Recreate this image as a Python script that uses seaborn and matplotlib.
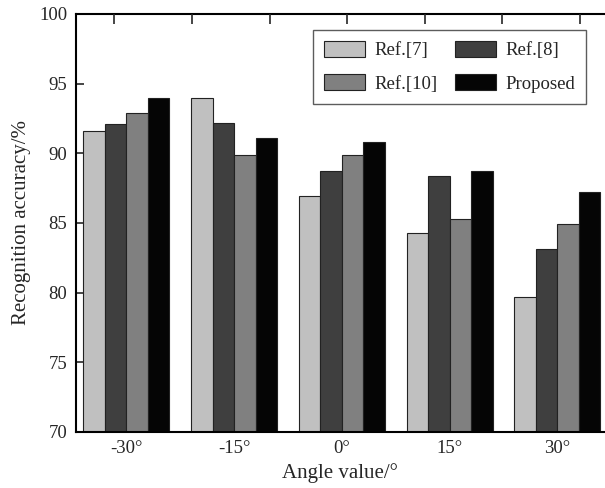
import seaborn as sns
import pandas as pd
import numpy as np
import matplotlib.pyplot as plt

# Data
angles = ['-30°', '-15°', '0°', '15°', '30°']
methods = ['Ref.[7]', 'Ref.[8]', 'Ref.[10]', 'Proposed']
ref7 = [91.6, 94.0, 86.9, 84.3, 79.7]
ref8 = [92.1, 92.2, 88.7, 88.4, 83.1]
ref10 = [92.9, 89.9, 89.9, 85.3, 84.9]
proposed = [94.0, 91.1, 90.8, 88.7, 87.2]
colors = ['#c0c0c0', '#3f3f3f', '#808080', '#050505']

rows = []
for name, vals in zip(methods, [ref7, ref8, ref10, proposed]):
    for a, v in zip(angles, vals):
        rows.append({'angle': a, 'method': name, 'acc': v})
df = pd.DataFrame(rows)

sns.set_style('ticks')
plt.rcParams['font.family'] = ['Liberation Serif', 'DejaVu Serif']

fig = plt.figure(figsize=(6.05, 4.88), dpi=100)
ax = fig.add_axes([0.1251, 0.1148, 0.8749, 0.8566])

sns.barplot(data=df, x='angle', y='acc', hue='method', order=angles,
            hue_order=methods, palette=colors, width=0.8,
            edgecolor='#222222', linewidth=0.8, saturation=1, ax=ax)

ax.set_ylim(70, 100)
ax.set_xlim(-0.47, 4.442)
ax.set_yticks(np.arange(70, 101, 5))
ax.set_xlabel('Angle value/°', fontsize=15, labelpad=4)
ax.set_ylabel('Recognition accuracy/%', fontsize=15, labelpad=6)
ax.tick_params(axis='y', direction='in', length=6, width=1.2, labelsize=13.5, pad=6)
ax.tick_params(axis='x', length=0, labelsize=13.5, pad=6)

for s in ['left', 'top', 'bottom']:
    ax.spines[s].set_visible(True)
    ax.spines[s].set_linewidth(1.5)
    ax.spines[s].set_color('black')
ax.spines['right'].set_visible(False)

# top ticks (unlabeled, inward)
top = ax.twiny()
top.set_xlim(0, 1)
top.set_xticks(0.073 + 0.1466 * np.arange(7))
top.set_xticklabels([])
top.tick_params(axis='x', direction='in', length=7, width=1.2)
for s in top.spines.values():
    s.set_visible(False)

# legend filled row by row
handles, labels = ax.get_legend_handles_labels()
order = [0, 2, 1, 3]
leg = ax.legend([handles[i] for i in order], [labels[i] for i in order],
                loc='upper left', bbox_to_anchor=(0.448, 0.962), ncol=2,
                fontsize=13.5, frameon=True, fancybox=False, edgecolor='#333333',
                handlelength=2.2, handleheight=0.9, handletextpad=0.5,
                columnspacing=0.9, labelspacing=0.8, borderpad=0.6,
                borderaxespad=0)
leg.get_frame().set_linewidth(1.0)

fig.savefig('out.png', dpi=100)
